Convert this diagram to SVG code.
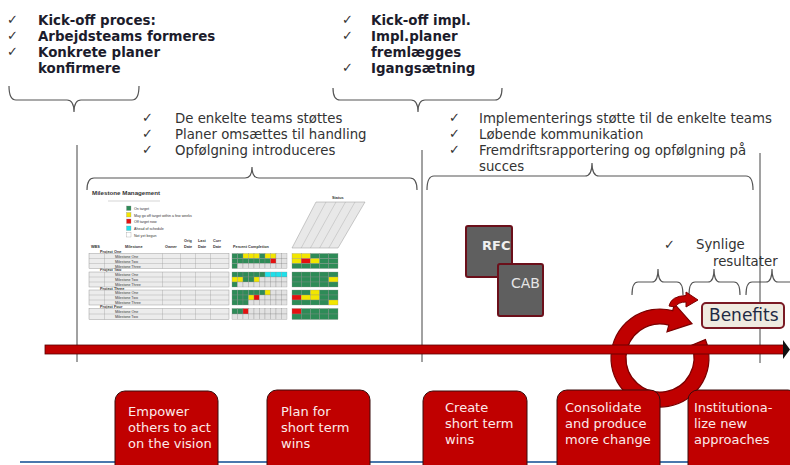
<svg xmlns="http://www.w3.org/2000/svg" width="790" height="465" viewBox="0 0 790 465">
<style>
.bt{font-family:"DejaVu Sans",Verdana,sans-serif;font-size:13.4px;font-weight:bold;fill:#1c1c2c}
.rt{font-family:"DejaVu Sans",Verdana,sans-serif;font-size:13.3px;fill:#333}
.ck{font-family:"DejaVu Sans",sans-serif;font-size:13px;fill:#333}
.br{fill:none;stroke:#555;stroke-width:1.2}
.vl{stroke:#444;stroke-width:1}
.step rect{fill:#c00000;stroke:#3a0d0d;stroke-width:1}
.step text{font-family:"DejaVu Sans",Verdana,sans-serif;font-size:13px;fill:#fbeaea}
.tt{font-family:"Liberation Sans",Arial,sans-serif;fill:#333}
.g{fill:#2e8b57}.y{fill:#f2e600}.r{fill:#e41010}.c{fill:#1ee0ea}.l{fill:#e2e2e2}
.cells rect{stroke:#8a8a8a;stroke-width:0.3}
.blk{fill:#ececec;stroke:#888;stroke-width:0.4}
.gl{stroke:#999;stroke-width:0.35;fill:none}
</style>

<g id="connectors">
  <path class="br" d="M9,86 Q9,100 16,100 L67,100 Q74,100 74,112 Q74,100 81,100 L132,100 Q139,100 139,86"/>
  <path class="br" d="M333,88 Q333,100 340,100 L411,100 Q418,100 418,112 Q418,100 425,100 L495,100 Q502,100 502,88"/>
  <path class="br" d="M87,190 Q87,178 94,178 L245,178 Q252,178 252,167 Q252,178 259,178 L410,178 Q417,178 417,190"/>
  <path class="br" d="M427,190 Q427,176 434,176 L585,176 Q592,176 592,163 Q592,176 599,176 L746,176 Q753,176 753,190"/>
  <path class="br" d="M632,295 Q632,282 638,282 L652,282 Q658,282 658,269 Q658,282 664,282 L677,282 Q683,282 683,295"/>
  <path class="br" d="M689,295 Q689,282 695,282 L708,282 Q714,282 714,269 Q714,282 720,282 L734,282 Q740,282 740,295"/>
  <path class="br" d="M746,295 Q746,282 752,282 L766,282 Q772,282 772,269 Q772,282 778,282 L800,282"/>
  <line class="vl" x1="77" y1="145" x2="77" y2="362"/>
  <line class="vl" x1="422" y1="150" x2="422" y2="362"/>
  <line class="vl" x1="760" y1="153" x2="760" y2="363"/>
</g>

<g id="kickoff-process">
  <text class="ck" x="7" y="24">✓</text>
  <text class="ck" x="7" y="40">✓</text>
  <text class="ck" x="7" y="56">✓</text>
  <text class="bt" x="38" y="25">Kick-off proces:</text>
  <text class="bt" x="38" y="41">Arbejdsteams formeres</text>
  <text class="bt" x="38" y="57">Konkrete planer</text>
  <text class="bt" x="38" y="73">konfirmere</text>
</g>

<g id="kickoff-impl">
  <text class="ck" x="342" y="24">✓</text>
  <text class="ck" x="342" y="40">✓</text>
  <text class="ck" x="342" y="72">✓</text>
  <text class="bt" x="371" y="25">Kick-off impl.</text>
  <text class="bt" x="371" y="41">Impl.planer</text>
  <text class="bt" x="371" y="57">fremlægges</text>
  <text class="bt" x="371" y="73">Igangsætning</text>
</g>

<g id="teams-support">
  <text class="ck" x="142" y="122">✓</text>
  <text class="ck" x="142" y="138">✓</text>
  <text class="ck" x="142" y="154">✓</text>
  <text class="rt" x="175" y="123">De enkelte teams støttes</text>
  <text class="rt" x="175" y="139">Planer omsættes til handling</text>
  <text class="rt" x="175" y="155">Opfølgning introduceres</text>
</g>

<g id="impl-support">
  <text class="ck" x="449" y="122">✓</text>
  <text class="ck" x="449" y="138">✓</text>
  <text class="ck" x="449" y="154">✓</text>
  <text class="rt" x="479" y="123">Implementerings støtte til de enkelte teams</text>
  <text class="rt" x="479" y="139">Løbende kommunikation</text>
  <text class="rt" x="479" y="155">Fremdriftsrapportering og opfølgning på</text>
  <text class="rt" x="479" y="171">succes</text>
</g>

<g id="milestone-table">
  <text class="tt" x="92" y="195" font-size="6.2" font-weight="bold" fill="#444">Milestone Management</text>
  <line x1="108" y1="201" x2="160" y2="201" stroke="#bbb" stroke-width="0.6"/>
  <g class="cells">
    <rect class="g" x="126.5" y="206" width="4.5" height="4.5"/>
    <rect class="y" x="126.5" y="212.5" width="4.5" height="4.5"/>
    <rect class="r" x="126.5" y="219" width="4.5" height="4.5"/>
    <rect class="c" x="126.5" y="226" width="4.5" height="4.5"/>
    <rect fill="#fff" x="126.5" y="232.5" width="4.5" height="4.5"/>
  </g>
  <g class="tt" font-size="3.6">
    <text x="134" y="210">On target</text>
    <text x="134" y="216.5">May go off target within a few weeks</text>
    <text x="134" y="223">Off target now</text>
    <text x="134" y="230">Ahead of schedule</text>
    <text x="134" y="236.5">Not yet begun</text>
  </g>
  <g class="tt" font-size="3.8" font-weight="bold">
    <text x="91" y="247.5">WBS</text>
    <text x="125" y="247.5">Milestone</text>
    <text x="165" y="247.5">Owner</text>
    <text x="184" y="242">Orig</text><text x="184" y="247.5">Date</text>
    <text x="198" y="242">Last</text><text x="198" y="247.5">Date</text>
    <text x="213" y="242">Curr</text><text x="213" y="247.5">Date</text>
    <text x="233" y="247.5">Percent Completion</text>
    <text x="332" y="199">Status</text>
    <text x="100" y="252.5">Project One</text>
    <text x="100" y="271">Project Two</text>
    <text x="100" y="289.5">Project Three</text>
    <text x="100" y="308">Project Four</text>
  </g>
  <path d="M292,248 L338,248 L365,202 L316,202 Z" fill="#e8e8e8" stroke="#999" stroke-width="0.5"/>
  <path class="gl" d="M301.2,248 L326,202 M310.4,248 L336,202 M319.6,248 L345.5,202 M328.8,248 L355,202"/>
  <rect class="blk" x="89" y="253.5" width="140" height="15"/>
  <rect class="blk" x="89" y="272" width="140" height="15"/>
  <rect class="blk" x="89" y="290" width="140" height="15"/>
  <rect class="blk" x="89" y="308.5" width="140" height="11"/>
  <path class="gl" d="M104.5,253.5V268.5M162.5,253.5V268.5M180.5,253.5V268.5M195.5,253.5V268.5M210.5,253.5V268.5M89,258.5H229M89,263.5H229
  M104.5,272V287M162.5,272V287M180.5,272V287M195.5,272V287M210.5,272V287M89,277H229M89,282H229
  M104.5,290V305M162.5,290V305M180.5,290V305M195.5,290V305M210.5,290V305M89,295H229M89,300H229
  M104.5,308.5V319.5M162.5,308.5V319.5M180.5,308.5V319.5M195.5,308.5V319.5M210.5,308.5V319.5M89,314H229"/>
  <g class="tt" font-size="3.6">
    <text x="115" y="257.5">Milestone One</text><text x="115" y="262.5">Milestone Two</text><text x="115" y="267.5">Milestone Three</text>
    <text x="115" y="276">Milestone One</text><text x="115" y="281">Milestone Two</text><text x="115" y="286">Milestone Three</text>
    <text x="115" y="294">Milestone One</text><text x="115" y="299">Milestone Two</text><text x="115" y="304">Milestone Three</text>
    <text x="115" y="312.5">Milestone One</text><text x="115" y="318">Milestone Two</text>
  </g>
  <g class="cells">
    <rect class="g" x="232" y="253.5" width="5.5" height="5"/><rect class="g" x="237.5" y="253.5" width="5.5" height="5"/><rect class="y" x="243" y="253.5" width="5.5" height="5"/><rect class="y" x="248.5" y="253.5" width="5.5" height="5"/><rect class="y" x="254" y="253.5" width="5.5" height="5"/><rect class="g" x="259.5" y="253.5" width="5.5" height="5"/><rect class="y" x="265" y="253.5" width="5.5" height="5"/><rect class="y" x="270.5" y="253.5" width="5.5" height="5"/><rect class="l" x="276" y="253.5" width="5.5" height="5"/><rect class="l" x="281.5" y="253.5" width="5.5" height="5"/>
    <rect class="g" x="232" y="258.5" width="5.5" height="5"/><rect class="g" x="237.5" y="258.5" width="5.5" height="5"/><rect class="g" x="243" y="258.5" width="5.5" height="5"/><rect class="g" x="248.5" y="258.5" width="5.5" height="5"/><rect class="g" x="254" y="258.5" width="5.5" height="5"/><rect class="g" x="259.5" y="258.5" width="5.5" height="5"/><rect class="g" x="265" y="258.5" width="5.5" height="5"/><rect class="r" x="270.5" y="258.5" width="5.5" height="5"/><rect class="l" x="276" y="258.5" width="5.5" height="5"/><rect class="l" x="281.5" y="258.5" width="5.5" height="5"/>
    <rect class="g" x="232" y="263.5" width="5.5" height="5"/><rect class="l" x="237.5" y="263.5" width="5.5" height="5"/><rect class="l" x="243" y="263.5" width="5.5" height="5"/><rect class="l" x="248.5" y="263.5" width="5.5" height="5"/><rect class="l" x="254" y="263.5" width="5.5" height="5"/><rect class="l" x="259.5" y="263.5" width="5.5" height="5"/><rect class="l" x="265" y="263.5" width="5.5" height="5"/><rect class="l" x="270.5" y="263.5" width="5.5" height="5"/><rect class="l" x="276" y="263.5" width="5.5" height="5"/><rect class="l" x="281.5" y="263.5" width="5.5" height="5"/>
    <rect class="g" x="232" y="272" width="5.5" height="5"/><rect class="g" x="237.5" y="272" width="5.5" height="5"/><rect class="g" x="243" y="272" width="5.5" height="5"/><rect class="g" x="248.5" y="272" width="5.5" height="5"/><rect class="g" x="254" y="272" width="5.5" height="5"/><rect class="g" x="259.5" y="272" width="5.5" height="5"/><rect class="c" x="265" y="272" width="5.5" height="5"/><rect class="c" x="270.5" y="272" width="5.5" height="5"/><rect class="c" x="276" y="272" width="5.5" height="5"/><rect class="c" x="281.5" y="272" width="5.5" height="5"/>
    <rect class="y" x="232" y="277" width="5.5" height="5"/><rect class="y" x="237.5" y="277" width="5.5" height="5"/><rect class="g" x="243" y="277" width="5.5" height="5"/><rect class="g" x="248.5" y="277" width="5.5" height="5"/><rect class="y" x="254" y="277" width="5.5" height="5"/><rect class="l" x="259.5" y="277" width="5.5" height="5"/><rect class="l" x="265" y="277" width="5.5" height="5"/><rect class="l" x="270.5" y="277" width="5.5" height="5"/><rect class="l" x="276" y="277" width="5.5" height="5"/><rect class="l" x="281.5" y="277" width="5.5" height="5"/>
    <rect class="g" x="232" y="282" width="5.5" height="5"/><rect class="l" x="237.5" y="282" width="5.5" height="5"/><rect class="l" x="243" y="282" width="5.5" height="5"/><rect class="l" x="248.5" y="282" width="5.5" height="5"/><rect class="l" x="254" y="282" width="5.5" height="5"/><rect class="l" x="259.5" y="282" width="5.5" height="5"/><rect class="l" x="265" y="282" width="5.5" height="5"/><rect class="l" x="270.5" y="282" width="5.5" height="5"/><rect class="l" x="276" y="282" width="5.5" height="5"/><rect class="l" x="281.5" y="282" width="5.5" height="5"/>
    <rect class="g" x="232" y="290" width="5.5" height="5"/><rect class="g" x="237.5" y="290" width="5.5" height="5"/><rect class="g" x="243" y="290" width="5.5" height="5"/><rect class="g" x="248.5" y="290" width="5.5" height="5"/><rect class="g" x="254" y="290" width="5.5" height="5"/><rect class="g" x="259.5" y="290" width="5.5" height="5"/><rect class="y" x="265" y="290" width="5.5" height="5"/><rect class="l" x="270.5" y="290" width="5.5" height="5"/><rect class="l" x="276" y="290" width="5.5" height="5"/><rect class="l" x="281.5" y="290" width="5.5" height="5"/>
    <rect class="g" x="232" y="295" width="5.5" height="5"/><rect class="g" x="237.5" y="295" width="5.5" height="5"/><rect class="g" x="243" y="295" width="5.5" height="5"/><rect class="y" x="248.5" y="295" width="5.5" height="5"/><rect class="r" x="254" y="295" width="5.5" height="5"/><rect class="l" x="259.5" y="295" width="5.5" height="5"/><rect class="l" x="265" y="295" width="5.5" height="5"/><rect class="l" x="270.5" y="295" width="5.5" height="5"/><rect class="l" x="276" y="295" width="5.5" height="5"/><rect class="l" x="281.5" y="295" width="5.5" height="5"/>
    <rect class="g" x="232" y="300" width="5.5" height="5"/><rect class="g" x="237.5" y="300" width="5.5" height="5"/><rect class="g" x="243" y="300" width="5.5" height="5"/><rect class="l" x="248.5" y="300" width="5.5" height="5"/><rect class="l" x="254" y="300" width="5.5" height="5"/><rect class="l" x="259.5" y="300" width="5.5" height="5"/><rect class="l" x="265" y="300" width="5.5" height="5"/><rect class="l" x="270.5" y="300" width="5.5" height="5"/><rect class="l" x="276" y="300" width="5.5" height="5"/><rect class="l" x="281.5" y="300" width="5.5" height="5"/>
    <rect class="g" x="232" y="308.5" width="5.5" height="5.5"/><rect class="g" x="237.5" y="308.5" width="5.5" height="5.5"/><rect class="r" x="243" y="308.5" width="5.5" height="5.5"/><rect class="l" x="248.5" y="308.5" width="5.5" height="5.5"/><rect class="l" x="254" y="308.5" width="5.5" height="5.5"/><rect class="l" x="259.5" y="308.5" width="5.5" height="5.5"/><rect class="l" x="265" y="308.5" width="5.5" height="5.5"/><rect class="l" x="270.5" y="308.5" width="5.5" height="5.5"/><rect class="l" x="276" y="308.5" width="5.5" height="5.5"/><rect class="l" x="281.5" y="308.5" width="5.5" height="5.5"/>
    <rect class="l" x="232" y="314" width="5.5" height="5.5"/><rect class="l" x="237.5" y="314" width="5.5" height="5.5"/><rect class="l" x="243" y="314" width="5.5" height="5.5"/><rect class="l" x="248.5" y="314" width="5.5" height="5.5"/><rect class="l" x="254" y="314" width="5.5" height="5.5"/><rect class="l" x="259.5" y="314" width="5.5" height="5.5"/><rect class="l" x="265" y="314" width="5.5" height="5.5"/><rect class="l" x="270.5" y="314" width="5.5" height="5.5"/><rect class="l" x="276" y="314" width="5.5" height="5.5"/><rect class="l" x="281.5" y="314" width="5.5" height="5.5"/>
    <rect class="y" x="292" y="253.5" width="9.2" height="5"/><rect class="y" x="301.2" y="253.5" width="9.2" height="5"/><rect class="g" x="310.4" y="253.5" width="9.2" height="5"/><rect class="g" x="319.6" y="253.5" width="9.2" height="5"/><rect class="g" x="328.8" y="253.5" width="9.2" height="5"/>
    <rect class="y" x="292" y="258.5" width="9.2" height="5"/><rect class="r" x="301.2" y="258.5" width="9.2" height="5"/><rect class="y" x="310.4" y="258.5" width="9.2" height="5"/><rect class="g" x="319.6" y="258.5" width="9.2" height="5"/><rect class="g" x="328.8" y="258.5" width="9.2" height="5"/>
    <rect class="g" x="292" y="263.5" width="9.2" height="5"/><rect class="g" x="301.2" y="263.5" width="9.2" height="5"/><rect class="g" x="310.4" y="263.5" width="9.2" height="5"/><rect class="g" x="319.6" y="263.5" width="9.2" height="5"/><rect class="g" x="328.8" y="263.5" width="9.2" height="5"/>
    <rect class="g" x="292" y="272" width="9.2" height="5"/><rect class="g" x="301.2" y="272" width="9.2" height="5"/><rect class="g" x="310.4" y="272" width="9.2" height="5"/><rect class="g" x="319.6" y="272" width="9.2" height="5"/><rect class="g" x="328.8" y="272" width="9.2" height="5"/>
    <rect class="g" x="292" y="277" width="9.2" height="5"/><rect class="g" x="301.2" y="277" width="9.2" height="5"/><rect class="g" x="310.4" y="277" width="9.2" height="5"/><rect class="g" x="319.6" y="277" width="9.2" height="5"/><rect class="y" x="328.8" y="277" width="9.2" height="5"/>
    <rect class="g" x="292" y="282" width="9.2" height="5"/><rect class="g" x="301.2" y="282" width="9.2" height="5"/><rect class="g" x="310.4" y="282" width="9.2" height="5"/><rect class="g" x="319.6" y="282" width="9.2" height="5"/><rect class="g" x="328.8" y="282" width="9.2" height="5"/>
    <rect class="g" x="292" y="290" width="9.2" height="5"/><rect class="g" x="301.2" y="290" width="9.2" height="5"/><rect class="y" x="310.4" y="290" width="9.2" height="5"/><rect class="g" x="319.6" y="290" width="9.2" height="5"/><rect class="g" x="328.8" y="290" width="9.2" height="5"/>
    <rect class="r" x="292" y="295" width="9.2" height="5"/><rect class="y" x="301.2" y="295" width="9.2" height="5"/><rect class="y" x="310.4" y="295" width="9.2" height="5"/><rect class="g" x="319.6" y="295" width="9.2" height="5"/><rect class="g" x="328.8" y="295" width="9.2" height="5"/>
    <rect class="g" x="292" y="300" width="9.2" height="5"/><rect class="g" x="301.2" y="300" width="9.2" height="5"/><rect class="g" x="310.4" y="300" width="9.2" height="5"/><rect class="g" x="319.6" y="300" width="9.2" height="5"/><rect class="y" x="328.8" y="300" width="9.2" height="5"/>
    <rect class="r" x="292" y="308.5" width="9.2" height="5.5"/><rect class="g" x="301.2" y="308.5" width="9.2" height="5.5"/><rect class="g" x="310.4" y="308.5" width="9.2" height="5.5"/><rect class="g" x="319.6" y="308.5" width="9.2" height="5.5"/><rect class="g" x="328.8" y="308.5" width="9.2" height="5.5"/>
    <rect class="g" x="292" y="314" width="9.2" height="5.5"/><rect class="g" x="301.2" y="314" width="9.2" height="5.5"/><rect class="g" x="310.4" y="314" width="9.2" height="5.5"/><rect class="g" x="319.6" y="314" width="9.2" height="5.5"/><rect class="g" x="328.8" y="314" width="9.2" height="5.5"/>
  </g>
</g>

<g id="rfc">
  <rect x="466" y="226" width="46" height="51" rx="2" fill="#5f5f5f" stroke="#6b0f1a" stroke-width="2"/>
  <text x="482" y="250" font-family="'DejaVu Sans',sans-serif" font-size="13" font-weight="bold" fill="#f0f0f0">RFC</text>
</g>
<g id="cab">
  <rect x="498" y="264" width="45" height="52" rx="2" fill="#5f5f5f" stroke="#6b0f1a" stroke-width="2"/>
  <text x="511" y="288" font-family="'DejaVu Sans',sans-serif" font-size="14" fill="#e6e6e6">CAB</text>
</g>

<g id="visible-results">
  <text class="ck" x="664" y="249">✓</text>
  <text class="rt" x="696" y="249">Synlige</text>
  <text class="rt" x="713" y="266">resultater</text>
</g>

<g id="cycle-arrow">
  <path d="M705.4,339.6 A49,49 0 1,1 672.7,310.7 L674.5,303.9 L692,323.6 L667,331.9 L668.8,325.2 A34,34 0 1,0 691.5,345.3 Z" fill="#c00000" stroke="#7a0000" stroke-width="1.2"/>
  <path d="M669,306 Q671,296 686,295.5 L686,292 L698,300 L686,307 L686,302 Q678,302 675,307 Z" fill="#c00000" stroke="#7a0000" stroke-width="1"/>
</g>

<g id="timeline">
  <rect x="45" y="345" width="739" height="9" fill="#c00000" stroke="#5a0000" stroke-width="0.8"/>
  <polygon points="783,340 790,349.5 783,359" fill="#111"/>
</g>

<g id="benefits">
  <rect x="702" y="303" width="82" height="25" rx="4" fill="#efebe0" stroke="#7a1a24" stroke-width="2"/>
  <text x="709" y="321" font-family="'DejaVu Sans',sans-serif" font-size="17" fill="#1f2a44">Benefits</text>
</g>

<line x1="20" y1="462" x2="790" y2="462" stroke="#4a78ad" stroke-width="2"/>

<g id="step-empower" class="step">
  <rect x="115" y="391" width="103" height="90" rx="10"/>
  <text x="128" y="416">Empower</text>
  <text x="128" y="432">others to act</text>
  <text x="128" y="448">on the vision</text>
</g>
<g id="step-plan" class="step">
  <rect x="267" y="390" width="103" height="90" rx="10"/>
  <text x="281" y="416">Plan for</text>
  <text x="281" y="432">short term</text>
  <text x="281" y="448">wins</text>
</g>
<g id="step-create" class="step">
  <rect x="423" y="391" width="104" height="90" rx="10"/>
  <text x="445" y="412">Create</text>
  <text x="445" y="428">short term</text>
  <text x="445" y="444">wins</text>
</g>
<g id="step-consolidate" class="step">
  <rect x="557" y="390" width="103" height="90" rx="10"/>
  <text x="565" y="412">Consolidate</text>
  <text x="565" y="428">and produce</text>
  <text x="565" y="444">more change</text>
</g>
<g id="step-institutionalize" class="step">
  <rect x="688" y="390" width="110" height="90" rx="10"/>
  <text x="694" y="412">Institutiona-</text>
  <text x="694" y="428">lize new</text>
  <text x="694" y="444">approaches</text>
</g>
</svg>
